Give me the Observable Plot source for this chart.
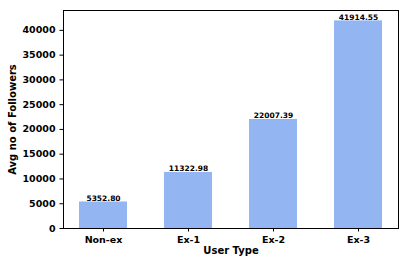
<!DOCTYPE html>
<html>
<head>
<meta charset="utf-8">
<script src="https://cdn.jsdelivr.net/npm/d3@7"></script>
<script src="https://cdn.jsdelivr.net/npm/@observablehq/plot@0.6"></script>
<style>
  html, body { margin: 0; padding: 0; background: white; }
</style>
</head>
<body>
<div id="chart"></div>
<script>
const categories = ["Non-ex", "Ex-1", "Ex-2", "Ex-3"];
const values = [5352.80, 11322.98, 22007.39, 41914.55];
const yTicks = [0, 5000, 10000, 15000, 20000, 25000, 30000, 35000, 40000];
const xLabel = "User Type";
const yLabel = "Avg no of Followers";

const data = categories.map((c, i) => ({type: c, value: values[i]}));

const chart = Plot.plot({
  width: 408,
  height: 266,
  marginLeft: 63,
  marginRight: 10,
  marginTop: 10,
  marginBottom: 38,
  style: {fontFamily: "DejaVu Sans", fontSize: "9.5px", fontWeight: "bold", color: "black", background: "white"},
  x: {domain: categories, paddingInner: 0.44, paddingOuter: 0.17, label: null},
  y: {domain: [0, d3.max(values) * 1.05], label: null},
  marks: [
    Plot.barY(data, {x: "type", y: "value", fill: "#93b5f2"}),
    Plot.text(data, {x: "type", y: "value", text: d => d.value.toFixed(2), lineAnchor: "bottom", dy: -1, fontSize: 7.5, fontWeight: "bold"}),
    Plot.frame({stroke: "black", strokeWidth: 1}),
    Plot.axisY({ticks: yTicks, tickFormat: d => String(d), tickSize: 3.5, tickPadding: 4.5, label: null, stroke: "black"}),
    Plot.axisX({tickSize: 3.5, tickPadding: 4, label: null, stroke: "black"}),
    Plot.text([xLabel], {frameAnchor: "bottom", text: d => d, dy: 25, fontSize: 10, fontWeight: "bold"}),
    Plot.text([yLabel], {frameAnchor: "left", textAnchor: "middle", text: d => d, rotate: -90, dx: -51, fontSize: 10, fontWeight: "bold"})
  ]
});
document.getElementById("chart").appendChild(chart);
</script>
</body>
</html>
